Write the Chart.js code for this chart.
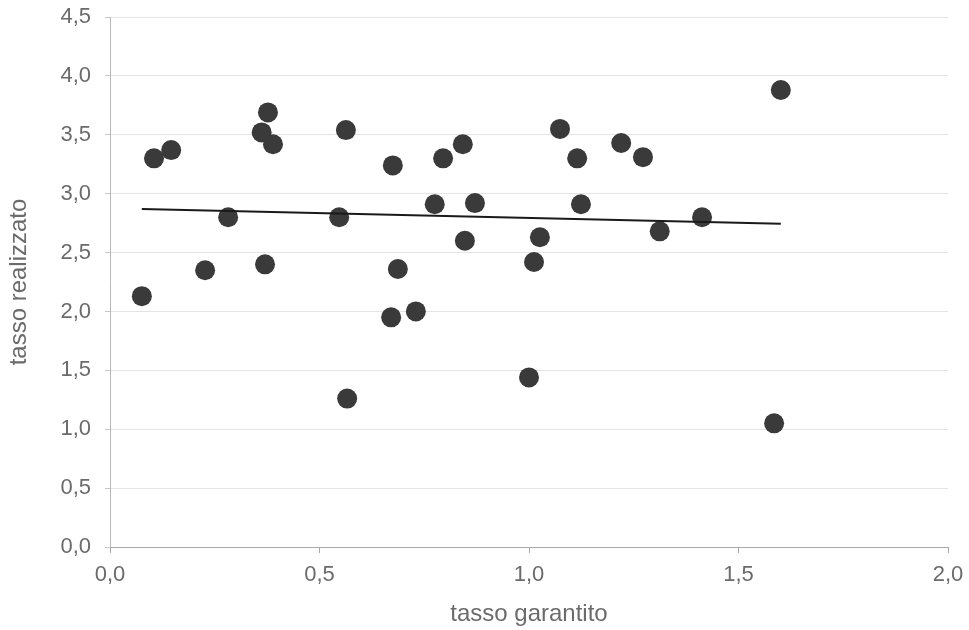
<!DOCTYPE html>
<html>
<head>
<meta charset="utf-8">
<script src="https://cdn.jsdelivr.net/npm/chart.js@4/dist/chart.umd.min.js"></script>
<style>
  html, body { margin: 0; padding: 0; background: #fff; }
  #wrap { width: 969px; height: 630px; }
</style>
</head>
<body>
<div id="wrap"><canvas id="scatterChart"></canvas></div>
<script>
// tasso garantito (x) / tasso realizzato (y)
const tassoGarantito = [0.076, 0.105, 0.146, 0.227, 0.282, 0.362, 0.377, 0.370, 0.389, 0.547,
    0.563, 0.566, 0.675, 0.687, 0.671, 0.730, 0.775, 0.795, 0.842, 0.847,
    0.871, 1.000, 1.012, 1.026, 1.074, 1.115, 1.124, 1.220, 1.272, 1.312,
    1.413, 1.585, 1.601];
const tassoRealizzato = [2.13, 3.30, 3.37, 2.35, 2.80, 3.52, 3.69, 2.40, 3.42, 2.80,
    3.54, 1.26, 3.24, 2.36, 1.95, 2.00, 2.91, 3.30, 3.42, 2.60,
    2.92, 1.44, 2.42, 2.63, 3.55, 3.30, 2.91, 3.43, 3.31, 2.68,
    2.80, 1.05, 3.88];

// linea di tendenza
const trendX = [0.076, 1.601];
const trendY = [2.87, 2.745];

const xTicks = [0, 0.5, 1.0, 1.5, 2.0];
const yTicks = [0, 0.5, 1.0, 1.5, 2.0, 2.5, 3.0, 3.5, 4.0, 4.5];

const fmt = v => v.toFixed(1).replace('.', ',');
const tickFont = { family: '"Liberation Sans", Arial, sans-serif', size: 22 };
const titleFont = { family: '"Liberation Sans", Arial, sans-serif', size: 24 };
const textColor = '#6b6b6b';

const points = tassoGarantito.map((x, i) => ({ x: x, y: tassoRealizzato[i] }));
const trend = trendX.map((x, i) => ({ x: x, y: trendY[i] }));

new Chart(document.getElementById('scatterChart'), {
    type: 'scatter',
    data: {
        datasets: [
            {
                type: 'line',
                data: trend,
                borderColor: '#1a1a1a',
                borderWidth: 2,
                pointRadius: 0,
                fill: false,
                order: 0
            },
            {
                data: points,
                backgroundColor: '#3a3a3a',
                borderWidth: 0,
                pointRadius: 10,
                pointHoverRadius: 10,
                order: 1
            }
        ]
    },
    options: {
        responsive: true,
        maintainAspectRatio: false,
        animation: false,
        layout: { padding: { top: 17, right: 21, left: 0, bottom: 0 } },
        plugins: {
            legend: { display: false },
            tooltip: { enabled: false }
        },
        scales: {
            x: {
                type: 'linear',
                min: 0,
                max: 2,
                afterBuildTicks: s => { s.ticks = xTicks.map(v => ({ value: v })); },
                afterFit: s => { s.height = 83; s.paddingLeft = 0; s.paddingRight = 0; },
                ticks: { color: textColor, font: tickFont, padding: 9, maxRotation: 0, callback: v => fmt(v) },
                grid: { display: true, drawOnChartArea: false, color: '#a8a8a8', tickLength: 6 },
                border: { color: '#a8a8a8', width: 1 },
                title: {
                    display: true,
                    text: 'tasso garantito',
                    color: textColor,
                    font: titleFont,
                    padding: { top: 0, bottom: 1 }
                }
            },
            y: {
                type: 'linear',
                min: 0,
                max: 4.5,
                afterBuildTicks: s => { s.ticks = yTicks.map(v => ({ value: v })); },
                afterFit: s => { s.width = 110; s.paddingTop = 0; s.paddingBottom = 0; },
                ticks: { color: textColor, font: tickFont, padding: 14, callback: v => fmt(v) },
                grid: { color: '#e4e4e4', lineWidth: 1, tickLength: 5, tickColor: '#c8c8c8' },
                border: { color: '#b8b8b8', width: 1 },
                title: {
                    display: true,
                    text: 'tasso realizzato',
                    color: textColor,
                    font: titleFont,
                    padding: { top: 5, bottom: 0 }
                }
            }
        }
    }
});
</script>
</body>
</html>
